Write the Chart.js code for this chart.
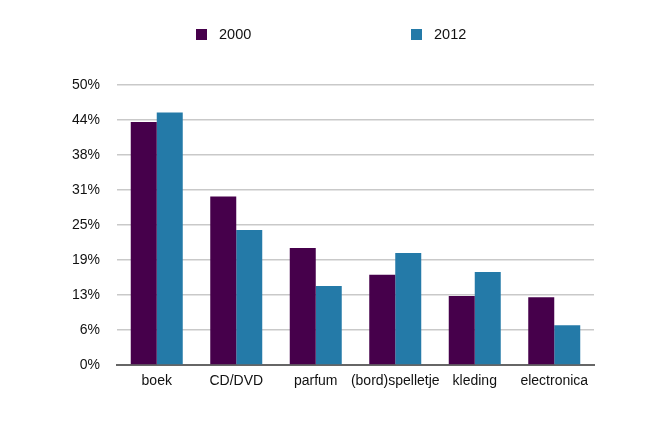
<!DOCTYPE html>
<html>
<head>
<meta charset="utf-8">
<script src="https://cdn.jsdelivr.net/npm/chart.js@4"></script>
<style>
html,body{margin:0;padding:0;background:#fff;}
#wrap{position:relative;width:665px;height:438px;}
#legend{position:absolute;top:25px;left:0;width:665px;height:20px;font:14.5px "Liberation Sans",Arial,sans-serif;color:#111;}
#legend span.box{position:absolute;top:4px;width:11px;height:11px;}
#legend span.txt{position:absolute;top:0;line-height:18px;}
</style>
</head>
<body>
<div id="wrap">
<canvas id="myChart" width="665" height="438"></canvas>
<div id="legend"></div>
</div>
<script>
const categories=['boek','CD/DVD','parfum','(bord)spelletje','kleding','electronica'];
const series2000=[43.4,30.1,20.9,16.1,12.3,12.1];
const series2012=[45.1,24.1,14.1,20.0,16.6,7.1];
const seriesNames=['2000','2012'];
const seriesColors=['#46004b','#247aa8'];
const yTickLabels=['0%','6%','13%','19%','25%','31%','38%','44%','50%'];

// legend as html, items far apart like the original
const legend=document.getElementById('legend');
const legendX=[196,411];
seriesNames.forEach((n,i)=>{
  legend.innerHTML+='<span class="box" style="left:'+legendX[i]+'px;background:'+seriesColors[i]+'"></span>'+
    '<span class="txt" style="left:'+(legendX[i]+23)+'px">'+n+'</span>';
});

const ctx=document.getElementById('myChart').getContext('2d');
const font={family:'"Liberation Sans", Arial, sans-serif',size:14};
const myChart=new Chart(ctx,{
  type:'bar',
  data:{
    labels:categories,
    datasets:[
      {label:seriesNames[0],data:series2000,backgroundColor:seriesColors[0],borderWidth:0},
      {label:seriesNames[1],data:series2012,backgroundColor:seriesColors[1],borderWidth:0}
    ]
  },
  options:{
    responsive:false,
    animation:false,
    layout:{padding:{top:85,right:71,bottom:43,left:0}},
    plugins:{legend:{display:false},tooltip:{enabled:false}},
    datasets:{bar:{categoryPercentage:0.654,barPercentage:1}},
    scales:{
      x:{
        grid:{display:false,drawTicks:false},
        border:{display:true,color:'#666',width:2},
        ticks:{color:'#111',font:font,padding:8,maxRotation:0,autoSkip:false},
        afterFit:s=>{s.height=30;}
      },
      y:{
        min:0,max:50,
        grid:{color:'#c9c9c9',lineWidth:1.5,drawTicks:false},
        border:{display:false},
        ticks:{stepSize:6.25,color:'#111',font:font,padding:17,
          callback:(v,i)=>yTickLabels[i]},
        afterFit:s=>{s.width=117;}
      }
    }
  }
});
</script>
</body>
</html>
